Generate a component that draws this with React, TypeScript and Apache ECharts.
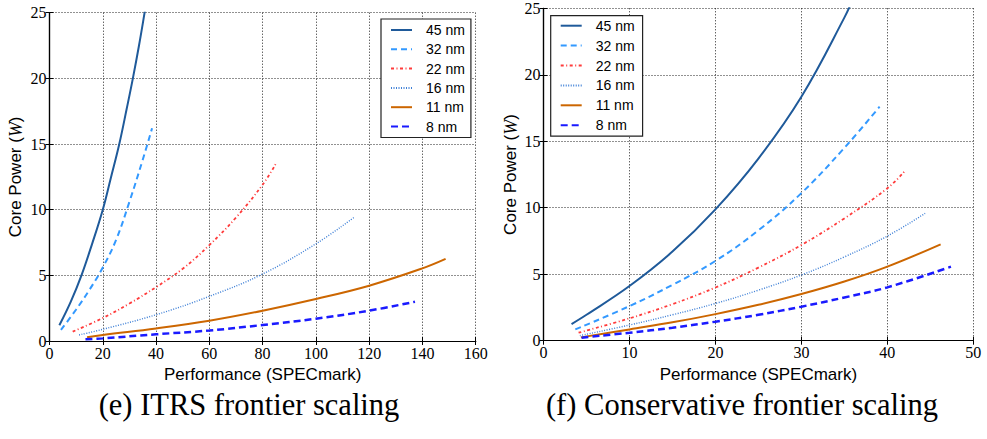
import React, { useEffect, useRef } from "react";
import * as echarts from "echarts";

const seriesNames = ["45 nm", "32 nm", "22 nm", "16 nm", "11 nm", "8 nm"];

// ITRS frontier scaling (left) [performance, power]
const itrs45: number[][] = [[3.7, 1.2], [8, 3.0], [12, 5], [16, 7.4], [20, 10], [23, 12.4], [26.2, 15], [29, 17.7], [31.3, 20], [33.6, 22.5], [35.7, 25], [36.5, 26]];
const itrs32: number[][] = [[4.3, 0.84], [10, 2.4], [15, 3.9], [20, 5.6], [25, 7.7], [30, 10.6], [35, 13.8], [38.5, 16.2]];
const itrs22: number[][] = [[8.7, 0.71], [20, 1.75], [30, 2.85], [40, 4.1], [50, 5.5], [60, 7.3], [70, 9.4], [80, 11.9], [85, 13.5]];
const itrs16: number[][] = [[11.1, 0.46], [20, 0.89], [40, 2.0], [60, 3.4], [80, 5.1], [100, 7.4], [114.7, 9.47]];
const itrs11: number[][] = [[14.1, 0.28], [20, 0.46], [40, 0.96], [60, 1.55], [80, 2.31], [100, 3.2], [120, 4.21], [140, 5.53], [148.7, 6.25]];
const itrs8: number[][] = [[13.5, 0.13], [20, 0.2], [40, 0.51], [60, 0.8], [80, 1.22], [100, 1.7], [120, 2.31], [137.2, 2.99]];

// Conservative frontier scaling (right)
const cons45: number[][] = [[3.26, 1.25], [5, 1.95], [10, 4.11], [15, 6.7], [20, 9.88], [25, 13.7], [30, 18.35], [35, 24.3], [36.2, 26]];
const cons32: number[][] = [[3.7, 0.85], [10, 2.6], [15, 4.2], [20, 6.0], [25, 8.3], [30, 11.1], [35, 14.5], [39.1, 17.6]];
const cons22: number[][] = [[4.08, 0.6], [10, 1.68], [15, 2.75], [20, 4.0], [25, 5.5], [30, 7.2], [35, 9.2], [40, 11.46], [41.96, 12.7]];
const cons16: number[][] = [[4.23, 0.38], [10, 1.18], [15, 1.95], [20, 2.8], [25, 3.8], [30, 4.94], [35, 6.3], [40, 7.87], [44.4, 9.58]];
const cons11: number[][] = [[4.35, 0.25], [10, 0.85], [15, 1.38], [20, 2.0], [25, 2.7], [30, 3.51], [35, 4.45], [40, 5.57], [46.2, 7.25]];
const cons8: number[][] = [[4.43, 0.23], [10, 0.6], [15, 0.98], [20, 1.43], [25, 1.95], [30, 2.56], [35, 3.25], [40, 4.01], [47.4, 5.57]];

const leftX = { min: 0, max: 160, interval: 20 };
const rightX = { min: 0, max: 50, interval: 10 };
const yRange = { min: 0, max: 25, interval: 5 };

const xTitle = "Performance (SPECmark)";
const captions = ["(e) ITRS frontier scaling", "(f) Conservative frontier scaling"];

const colors = ["#1f5a9a", "#3399ff", "#ff3b3b", "#3d7fd6", "#cc6600", "#1a1aff"];
const styles: any[] = [
  { width: 2, type: "solid" },
  { width: 2, type: [6, 4] },
  { width: 1.8, type: [3, 2.5, 1, 2.5] },
  { width: 1.4, type: [1, 1.5] },
  { width: 2, type: "solid" },
  { width: 2.5, type: [7, 4] },
];

export default function App() {
  const ref = useRef<HTMLDivElement>(null);
  useEffect(() => {
    if (!ref.current) return;
    const chart = echarts.init(ref.current, undefined, { renderer: "svg" });
    const tickFont = { fontFamily: "Liberation Serif", fontSize: 16, color: "#000" };
    const gridLine = { show: true, lineStyle: { color: "#222", width: 1, type: [1, 2] as any } };
    const axLine = { show: true, lineStyle: { color: "#000", width: 1.2 } };
    const tick = { show: true, inside: true, length: 4, lineStyle: { color: "#000" } };
    const yName = "{a|Core Power (}{b|W}{a|)}";
    const yNameStyle = {
      rich: {
        a: { fontFamily: "Liberation Sans", fontSize: 17, color: "#000" },
        b: { fontFamily: "Liberation Serif", fontStyle: "italic", fontSize: 18, color: "#000" },
      },
    };
    const mkX = (gi: number, r: any) => [
      {
        type: "value", gridIndex: gi, position: "bottom", ...r,
        axisLine: axLine, axisTick: tick, splitLine: gridLine,
        axisLabel: { ...tickFont, margin: 4 },
        name: xTitle, nameLocation: "middle", nameGap: 19,
        nameTextStyle: { fontFamily: "Liberation Sans", fontSize: 17, color: "#000" },
      },
      {
        type: "value", gridIndex: gi, position: "top", ...r,
        axisLine: axLine, axisTick: tick, splitLine: { show: false }, axisLabel: { show: false },
      },
    ];
    const mkY = (gi: number, gap: number) => [
      {
        type: "value", gridIndex: gi, position: "left", ...yRange,
        axisLine: axLine, axisTick: tick, splitLine: gridLine,
        axisLabel: { ...tickFont, margin: 3 },
        name: yName, nameLocation: "middle", nameGap: gap, nameTextStyle: yNameStyle,
      },
      {
        type: "value", gridIndex: gi, position: "right", ...yRange,
        axisLine: axLine, axisTick: tick, splitLine: { show: false }, axisLabel: { show: false },
      },
    ];
    const leftData = [itrs45, itrs32, itrs22, itrs16, itrs11, itrs8];
    const rightData = [cons45, cons32, cons22, cons16, cons11, cons8];
    const mkSeries = (datas: number[][][], xi: number, yi: number) =>
      datas.map((d, i) => ({
        type: "line", name: seriesNames[i], xAxisIndex: xi, yAxisIndex: yi,
        data: d, symbol: "none", showSymbol: false, smooth: 0.4,
        clip: true, color: colors[i],
        lineStyle: { color: colors[i], ...styles[i] },
      }));
    const legendBase = {
      orient: "vertical", data: seriesNames, itemWidth: 21, itemHeight: 14,
      backgroundColor: "#fff", borderColor: "#222", borderWidth: 1.2, borderRadius: 0,
      itemStyle: { opacity: 0 },
      textStyle: { fontFamily: "Liberation Sans", fontSize: 14, color: "#000", padding: [0, 0, 0, 9] },
      selectedMode: false,
    };
    chart.setOption({
      animation: false,
      backgroundColor: "#fff",
      grid: [
        { left: 49.5, top: 12.7, width: 426.2, height: 328.3 },
        { left: 543.5, top: 8.3, width: 429.8, height: 332.4 },
      ],
      xAxis: [...mkX(0, leftX), ...mkX(1, rightX)],
      yAxis: [...mkY(0, 25), ...mkY(1, 24)],
      legend: [
        { ...legendBase, left: 381, top: 19, itemGap: 5.3, padding: [4, 6, 4, 9] },
        { ...legendBase, left: 550.7, top: 15.7, itemGap: 5.9, padding: [3, 8, 4, 9] },
      ],
      series: [...mkSeries(leftData, 0, 0), ...mkSeries(rightData, 2, 2)],
      graphic: [
        { type: "text", x: 249, y: 405, style: { text: captions[0], font: "30.5px 'Liberation Serif'", fill: "#000", textAlign: "center", textVerticalAlign: "middle" } },
        { type: "text", x: 742, y: 405, style: { text: captions[1], font: "30.5px 'Liberation Serif'", fill: "#000", textAlign: "center", textVerticalAlign: "middle" } },
      ],
    });
    return () => chart.dispose();
  }, []);
  return <div ref={ref} style={{ position: "absolute", left: 0, top: 0, width: 987, height: 439 }} />;
}
